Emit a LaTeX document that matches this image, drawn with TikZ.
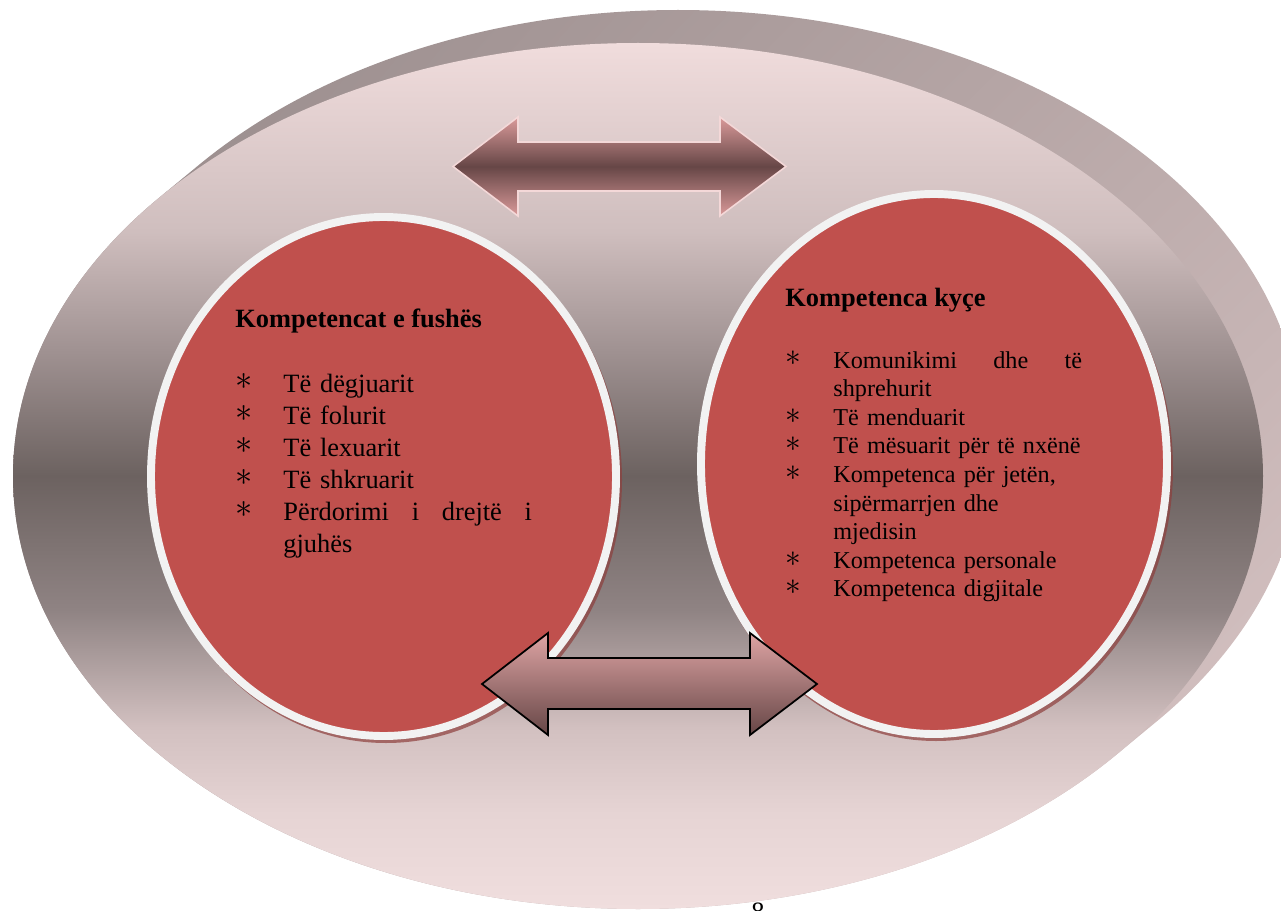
\documentclass[tikz,border=0pt]{standalone}
\usepackage{fontspec}
\usepackage{graphicx}
\setmainfont{Liberation Serif}
\usetikzlibrary{shadings}
\definecolor{ovaltop}{HTML}{F0DCDC}
\definecolor{ovala}{HTML}{CFBEBE}
\definecolor{ovalb}{HTML}{A09292}
\definecolor{ovalmid}{HTML}{6C6260}
\definecolor{ovalc}{HTML}{8F8383}
\definecolor{ovald}{HTML}{D2C0C0}
\definecolor{ovale}{HTML}{E6D4D4}
\definecolor{ovalbot}{HTML}{F0DEDE}
\definecolor{anaul}{HTML}{948888}
\definecolor{anaur}{HTML}{BCABAB}
\definecolor{anall}{HTML}{A89999}
\definecolor{analr}{HTML}{DCC8C8}
\definecolor{kuq}{HTML}{C0504D}
\definecolor{kuqhije}{HTML}{8E3F3D}
\definecolor{unaza}{HTML}{F2F2F2}
\definecolor{shigjetalart}{HTML}{DA9A9A}
\definecolor{shigjetaerr}{HTML}{664646}
\definecolor{shigjetaposht}{HTML}{DEA4A4}
\definecolor{vija}{HTML}{F4D8D8}
\pgfdeclareverticalshading{faqja}{100bp}{color(0bp)=(ovalbot); color(25bp)=(ovalbot); color(30.5bp)=(ovale); color(35.5bp)=(ovald); color(42.3bp)=(ovalc); color(50bp)=(ovalmid); color(57.3bp)=(ovalb); color(64.1bp)=(ovala); color(75bp)=(ovaltop); color(100bp)=(ovaltop)}
\newcommand{\pika}{\makebox[21.8pt][l]{\raisebox{1pt}{\scalebox{1.3}{$\ast$}}}}
\newcommand{\hap}{\hspace*{21.8pt}}
\begin{document}
\begin{tikzpicture}[x=0.4545pt,y=-0.4545pt,
	rreth/.style={draw=unaza,line width=3.6pt,fill=kuq},
	hije/.style={fill=kuqhije,opacity=0.7},
	titull/.style={anchor=base west,inner sep=0pt,font=\fontsize{12}{14.5}\selectfont\bfseries},
	liste/.style={anchor=base west,inner sep=0pt,text width=140pt}]
	\useasboundingbox (0,0) rectangle (1281,911);
	\clip (0,0) rectangle (1281,911);
	\shade[upper left=anaul,upper right=anaur,lower left=anall,lower right=analr] \foreach \k in {0,...,10}{(638+4*\k,476-3.3*\k) ellipse (625 and 433)}; % ana e ovalit
	\shade[shading=faqja] (638,476) ellipse (625 and 433); % faqja e ovalit
	\fill[hije] (386,480) ellipse (236 and 263);
	\draw[rreth] (383.5,476.5) ellipse (232.5 and 259.5);
	\fill[hije] (936,468) ellipse (237 and 273);
	\draw[rreth] (934,464) ellipse (233 and 270);
	\shadedraw[draw=vija,line width=0.7pt,top color=shigjetalart,bottom color=shigjetalart,middle color=shigjetaerr] (453,166.5) -- (518,117) -- (518,142) -- (720,142) -- (720,117) -- (786,166.5) -- (720,216) -- (720,191) -- (518,191) -- (518,216) -- cycle;
	\shadedraw[draw=black,line width=0.8pt,top color=shigjetaposht,bottom color=shigjetaerr] (482,684) -- (548,633) -- (548,658) -- (750,658) -- (750,633) -- (817,684) -- (750,735) -- (750,709) -- (548,709) -- (548,735) -- cycle;
	\node[titull] (koka1) at (235,327) {Kompetencat e fushës};
	\node[liste,font=\fontsize{12}{14.55}\selectfont] (lista1) at (235,392) {\pika Të dëgjuarit\\
		\pika Të folurit\\
		\pika Të lexuarit\\
		\pika Të shkruarit\\
		\pika\makebox[113pt][l]{Përdorimi\hfill i\hfill drejtë\hfill i}\\
		\hap gjuhës};
	\node[titull] (koka2) at (785,307) {Kompetenca kyçe};
	\node[liste,font=\fontsize{11}{13}\selectfont] (lista2) at (785,368) {\pika\makebox[113pt][l]{Komunikimi\hfill dhe\hfill të}\\
		\hap shprehurit\\
		\pika Të menduarit\\
		\pika Të mësuarit për të nxënë\\
		\pika Kompetenca për jetën,\\
		\hap sipërmarrjen dhe\\
		\hap mjedisin\\
		\pika Kompetenca personale\\
		\pika Kompetenca digjitale};
	\node[anchor=north,inner sep=0pt,font=\fontsize{12}{14}\selectfont] (faqe) at (758,902) {8};
\end{tikzpicture}
\end{document}
